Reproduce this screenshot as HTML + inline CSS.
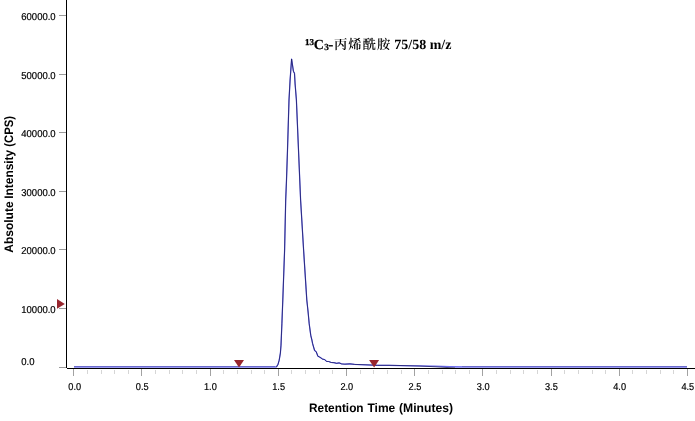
<!DOCTYPE html>
<html lang="zh"><head><meta charset="utf-8"><title>13C3-丙烯酰胺 75/58 m/z</title>
<style>
html,body{margin:0;padding:0;background:#fff;}
body{width:695px;height:421px;overflow:hidden;}
svg{display:block;}
.tk{font-family:"Liberation Sans",sans-serif;font-size:10px;fill:#000;stroke:#000;stroke-width:0.2px;text-rendering:geometricPrecision;}
.ax{font-family:"Liberation Sans",sans-serif;font-size:12.3px;font-weight:bold;fill:#000;text-rendering:geometricPrecision;}
.tt{font-family:"Liberation Serif","Noto Serif CJK SC",serif;font-size:14px;font-weight:bold;fill:#000;text-rendering:geometricPrecision;}
.cj{font-family:"Noto Serif CJK SC","Liberation Serif",serif;font-size:13.3px;letter-spacing:1.1px;font-weight:600;fill:#000;}
</style></head><body>
<svg width="695" height="421" viewBox="0 0 695 421">
<rect x="0" y="0" width="695" height="421" fill="#ffffff"/>
<g shape-rendering="crispEdges">
<rect x="59" y="367" width="7" height="1" fill="#9a9a9a"/>
<rect x="59" y="308" width="7" height="1" fill="#9a9a9a"/>
<rect x="59" y="249" width="7" height="1" fill="#9a9a9a"/>
<rect x="59" y="191" width="7" height="1" fill="#9a9a9a"/>
<rect x="59" y="132" width="7" height="1" fill="#9a9a9a"/>
<rect x="59" y="74" width="7" height="1" fill="#9a9a9a"/>
<rect x="59" y="15" width="7" height="1" fill="#9a9a9a"/>
<rect x="73" y="369" width="1" height="7" fill="#a2a2a2"/>
<rect x="87" y="370" width="1" height="4" fill="#d6d6d6"/>
<rect x="101" y="370" width="1" height="4" fill="#d6d6d6"/>
<rect x="114" y="370" width="1" height="4" fill="#d6d6d6"/>
<rect x="128" y="370" width="1" height="4" fill="#d6d6d6"/>
<rect x="141" y="369" width="1" height="7" fill="#a2a2a2"/>
<rect x="155" y="370" width="1" height="4" fill="#d6d6d6"/>
<rect x="169" y="370" width="1" height="4" fill="#d6d6d6"/>
<rect x="182" y="370" width="1" height="4" fill="#d6d6d6"/>
<rect x="196" y="370" width="1" height="4" fill="#d6d6d6"/>
<rect x="210" y="369" width="1" height="7" fill="#a2a2a2"/>
<rect x="223" y="370" width="1" height="4" fill="#d6d6d6"/>
<rect x="237" y="370" width="1" height="4" fill="#d6d6d6"/>
<rect x="251" y="370" width="1" height="4" fill="#d6d6d6"/>
<rect x="264" y="370" width="1" height="4" fill="#d6d6d6"/>
<rect x="278" y="369" width="1" height="7" fill="#a2a2a2"/>
<rect x="291" y="370" width="1" height="4" fill="#d6d6d6"/>
<rect x="305" y="370" width="1" height="4" fill="#d6d6d6"/>
<rect x="319" y="370" width="1" height="4" fill="#d6d6d6"/>
<rect x="332" y="370" width="1" height="4" fill="#d6d6d6"/>
<rect x="346" y="369" width="1" height="7" fill="#a2a2a2"/>
<rect x="360" y="370" width="1" height="4" fill="#d6d6d6"/>
<rect x="373" y="370" width="1" height="4" fill="#d6d6d6"/>
<rect x="387" y="370" width="1" height="4" fill="#d6d6d6"/>
<rect x="401" y="370" width="1" height="4" fill="#d6d6d6"/>
<rect x="414" y="369" width="1" height="7" fill="#a2a2a2"/>
<rect x="428" y="370" width="1" height="4" fill="#d6d6d6"/>
<rect x="442" y="370" width="1" height="4" fill="#d6d6d6"/>
<rect x="455" y="370" width="1" height="4" fill="#d6d6d6"/>
<rect x="469" y="370" width="1" height="4" fill="#d6d6d6"/>
<rect x="482" y="369" width="1" height="7" fill="#a2a2a2"/>
<rect x="496" y="370" width="1" height="4" fill="#d6d6d6"/>
<rect x="510" y="370" width="1" height="4" fill="#d6d6d6"/>
<rect x="523" y="370" width="1" height="4" fill="#d6d6d6"/>
<rect x="537" y="370" width="1" height="4" fill="#d6d6d6"/>
<rect x="551" y="369" width="1" height="7" fill="#a2a2a2"/>
<rect x="564" y="370" width="1" height="4" fill="#d6d6d6"/>
<rect x="578" y="370" width="1" height="4" fill="#d6d6d6"/>
<rect x="592" y="370" width="1" height="4" fill="#d6d6d6"/>
<rect x="605" y="370" width="1" height="4" fill="#d6d6d6"/>
<rect x="619" y="369" width="1" height="7" fill="#a2a2a2"/>
<rect x="632" y="370" width="1" height="4" fill="#d6d6d6"/>
<rect x="646" y="370" width="1" height="4" fill="#d6d6d6"/>
<rect x="660" y="370" width="1" height="4" fill="#d6d6d6"/>
<rect x="673" y="370" width="1" height="4" fill="#d6d6d6"/>
<rect x="687" y="369" width="1" height="7" fill="#a2a2a2"/>
</g>
<text class="tk" transform="translate(21.3,313.0) scale(0.95,1)">10000.0</text>
<text class="tk" transform="translate(21.3,254.0) scale(0.95,1)">20000.0</text>
<text class="tk" transform="translate(21.3,196.0) scale(0.95,1)">30000.0</text>
<text class="tk" transform="translate(21.3,137.0) scale(0.95,1)">40000.0</text>
<text class="tk" transform="translate(21.3,79.0) scale(0.95,1)">50000.0</text>
<text class="tk" transform="translate(21.3,20.0) scale(0.95,1)">60000.0</text>
<text class="tk" transform="translate(21.3,365.0) scale(0.95,1)">0.0</text>
<text class="tk" transform="translate(74.7,390.0) scale(0.92,1)" text-anchor="middle">0.0</text>
<text class="tk" transform="translate(142.2,390.0) scale(0.92,1)" text-anchor="middle">0.5</text>
<text class="tk" transform="translate(210.4,390.0) scale(0.92,1)" text-anchor="middle">1.0</text>
<text class="tk" transform="translate(278.6,390.0) scale(0.92,1)" text-anchor="middle">1.5</text>
<text class="tk" transform="translate(346.8,390.0) scale(0.92,1)" text-anchor="middle">2.0</text>
<text class="tk" transform="translate(415.0,390.0) scale(0.92,1)" text-anchor="middle">2.5</text>
<text class="tk" transform="translate(483.2,390.0) scale(0.92,1)" text-anchor="middle">3.0</text>
<text class="tk" transform="translate(551.4,390.0) scale(0.92,1)" text-anchor="middle">3.5</text>
<text class="tk" transform="translate(619.6,390.0) scale(0.92,1)" text-anchor="middle">4.0</text>
<text class="tk" transform="translate(687.8,390.0) scale(0.92,1)" text-anchor="middle">4.5</text>
<text class="ax" y="412"><tspan x="309.0" textLength="54.6" lengthAdjust="spacingAndGlyphs">Retention</tspan> <tspan x="367.5" textLength="27.8" lengthAdjust="spacingAndGlyphs">Time</tspan> <tspan x="399.0" textLength="54.0" lengthAdjust="spacingAndGlyphs">(Minutes)</tspan></text>
<text class="ax" transform="translate(13.2,252.8) rotate(-90)" y="0"><tspan x="0" textLength="51.4" lengthAdjust="spacingAndGlyphs">Absolute</tspan> <tspan x="54" textLength="49" lengthAdjust="spacingAndGlyphs">Intensity</tspan> <tspan x="106" textLength="30.8" lengthAdjust="spacingAndGlyphs">(CPS)</tspan></text>
<text class="tt"><tspan x="304.9" y="45.3" style="font-size:9px;stroke:#000;stroke-width:0.3px">13</tspan><tspan x="313.8" y="49.3" style="stroke:#000;stroke-width:0.2px">C</tspan><tspan x="324.3" y="49.7" style="font-size:9.3px;stroke:#000;stroke-width:0.25px">3</tspan><tspan x="328.6" y="49.3" style="stroke:#000;stroke-width:0.3px">-</tspan><tspan class="cj" x="333.9" y="48.9">丙烯酰胺</tspan><tspan x="390.8" y="49.3"> 75/58 m/z</tspan></text>
<polyline points="74.0,367.05 275.0,367.05 276.6,366.33 278.0,364.42 279.2,360.20 280.4,353.00 281.0,345.20 281.9,323.75 282.8,300.00 284.6,250.00 285.7,200.00 286.5,180.00 287.5,150.00 289.0,100.00 290.1,80.00 291.6,59.00 293.4,71.20 294.5,73.40 295.1,84.00 296.4,100.00 298.5,150.00 300.6,200.00 303.6,250.00 306.8,300.00 308.1,312.00 309.2,323.75 310.8,335.60 311.9,340.00 312.6,343.60 314.6,350.50 316.2,351.70 317.9,356.20 320.0,357.30 322.5,359.10 324.5,359.50 326.6,361.40 328.7,361.50 331.2,362.50 334.0,362.70 336.6,363.30 339.1,362.90 341.6,363.90 344.9,364.21 349.9,363.80 354.5,364.42 366.0,364.85 377.6,365.38 389.0,365.38 400.0,365.59 420.0,365.91 435.0,366.23 450.0,366.65 470.0,366.95 687.0,367.05" fill="none" stroke="#5c5cec" stroke-width="1.25" stroke-opacity="0.9" stroke-linejoin="round"/>
<polyline points="74.0,368.50 275.0,368.50 276.6,367.00 278.0,364.40 279.2,360.20 280.4,353.00 281.0,345.20 281.9,323.75 282.8,300.00 284.6,250.00 285.7,200.00 286.5,180.00 287.5,150.00 289.0,100.00 290.1,80.00 291.6,59.00 293.4,71.20 294.5,73.40 295.1,84.00 296.4,100.00 298.5,150.00 300.6,200.00 303.6,250.00 306.8,300.00 308.1,312.00 309.2,323.75 310.8,335.60 311.9,340.00 312.6,343.60 314.6,350.50 316.2,351.70 317.9,356.20 320.0,357.30 322.5,359.10 324.5,359.50 326.6,361.40 328.7,361.50 331.2,362.50 334.0,362.70 336.6,363.30 339.1,362.90 341.6,363.90 344.9,364.20 349.9,363.80 354.5,364.40 366.0,364.80 377.6,365.30 389.0,365.30 400.0,365.50 420.0,366.07 435.0,366.77 450.0,367.70 470.0,368.40 687.0,368.50" fill="none" stroke="#15155c" stroke-width="0.75" stroke-linejoin="round"/>
<g shape-rendering="crispEdges">
<rect x="74" y="366" width="201" height="1" fill="#6a6acc"/>
<rect x="74" y="367" width="202" height="1" fill="#9a9af2"/>
<rect x="462" y="366" width="225" height="1" fill="#6a6acc"/>
<rect x="455" y="367" width="232" height="1" fill="#9a9af2"/>
<rect x="66" y="0" width="1" height="368" fill="#000"/>
<rect x="67" y="368" width="628" height="1" fill="#000"/>
</g>
<polygon points="57,299 64.8,303.9 57,308.8" fill="#98262e"/>
<polygon points="234,360 244,360 239,367.4" fill="#98262e"/>
<polygon points="369.1,360 379.1,360 374.1,367.4" fill="#98262e"/>
</svg>
</body></html>
